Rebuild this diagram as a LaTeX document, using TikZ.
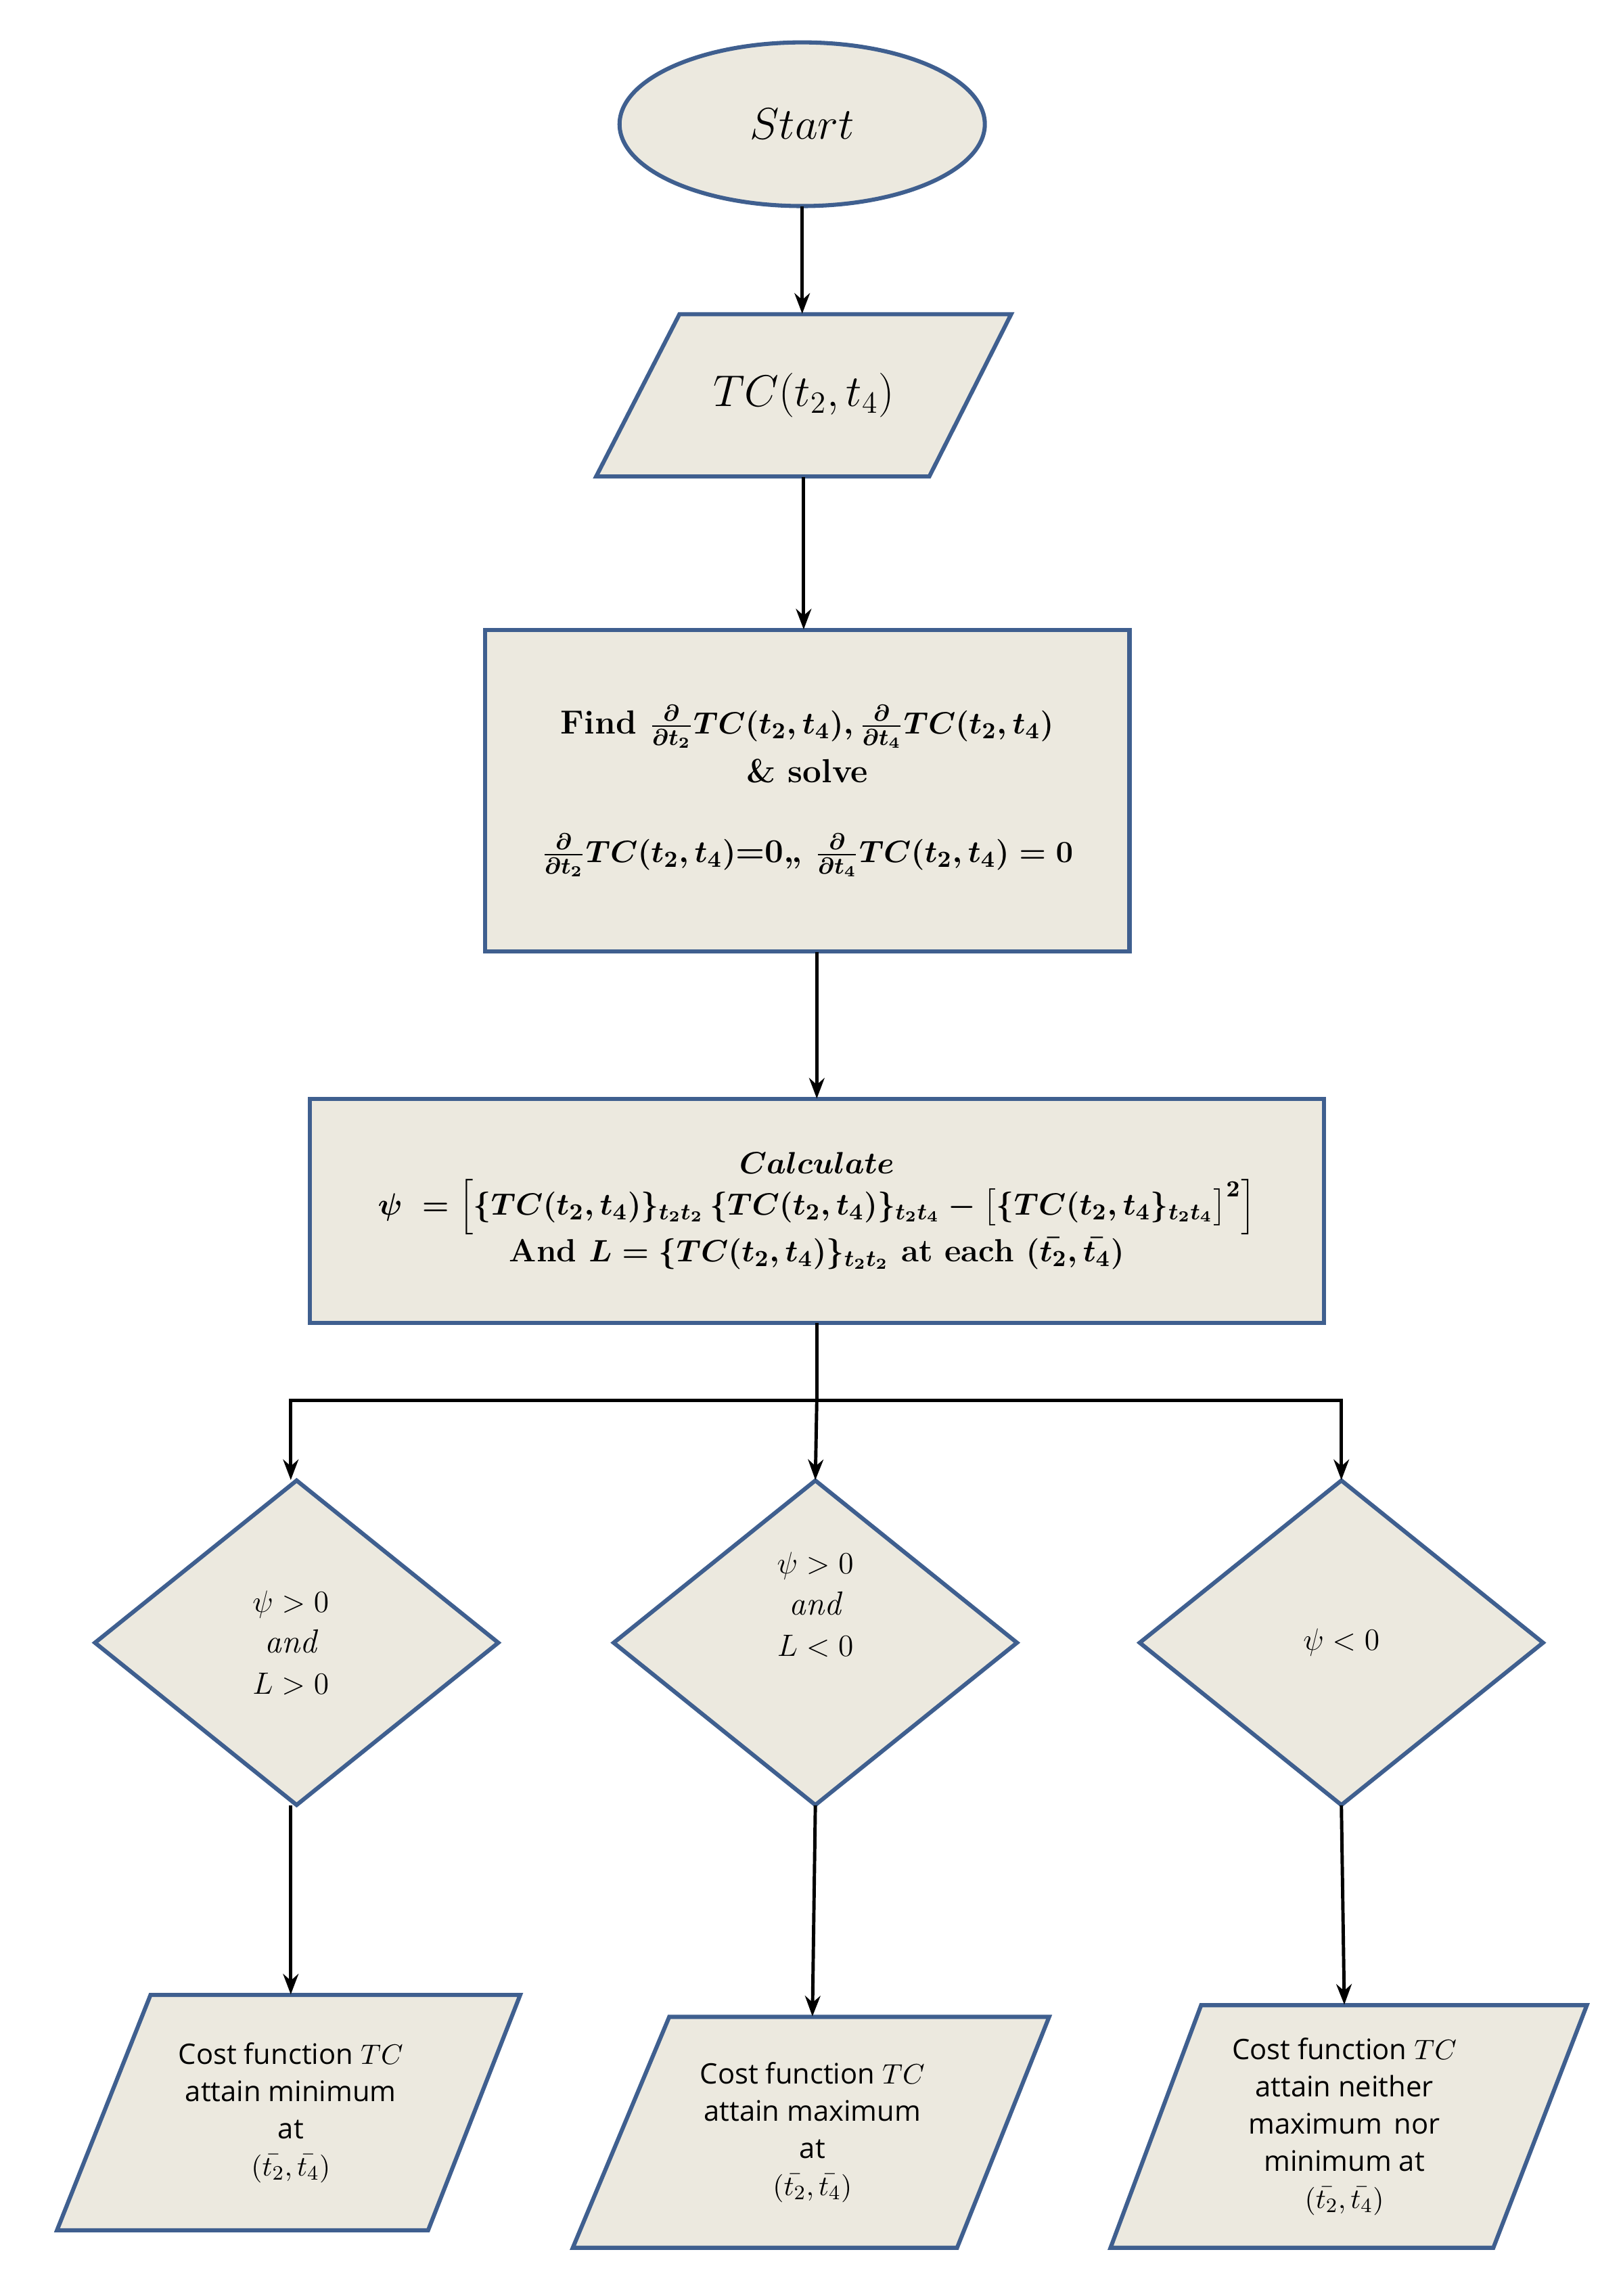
\documentclass[tikz,border=0pt]{standalone}
\usepackage{fontspec}
\usepackage{amsmath}
\newfontfamily\costfont{Open Sans}
\usetikzlibrary{arrows.meta}
\definecolor{fillc}{HTML}{ECE9DF}
\definecolor{edgec}{HTML}{3F5F8F}
\begin{document}
\begin{tikzpicture}[x=0.02cm,y=-0.02cm,
  shp/.style={fill=fillc,draw=edgec,line width=1.6pt,line join=miter},
  lab/.style={inner sep=0,align=center},
  arr/.style={-{Stealth[length=8pt,width=6pt]},line width=1.3pt}]
\useasboundingbox (0,0) rectangle (1109,1571);
% start
\draw[shp] (549,85) ellipse [x radius=125,y radius=56];
\node[lab,minimum width=5cm,minimum height=2.24cm,font=\fontsize{17}{20}\selectfont] (start) at (549,85) {$Start$};
% input
\draw[shp] (465,215)--(692,215)--(636,326)--(408,326)--cycle;
\node[lab,minimum width=4.5cm,minimum height=2.22cm,font=\fontsize{17}{20}\selectfont] (in) at (550,270.5) {$TC(t_2,t_4)$};
% box1
\draw[shp] (332,431) rectangle (773,651);
\node[lab,minimum width=8.82cm,minimum height=4.4cm,font=\fontsize{13}{17}\selectfont\bfseries\boldmath] (b1) at (552.5,541)
{Find $\frac{\partial}{\partial t_2}TC(t_2,t_4),\frac{\partial}{\partial t_4}TC(t_2,t_4)$\\[2pt] \& solve\\[14pt]
$\frac{\partial}{\partial t_2}TC(t_2,t_4)$=0,, $\frac{\partial}{\partial t_4}TC(t_2,t_4)=0$};
% box2
\draw[shp] (212,752) rectangle (906,905);
\node[lab,minimum width=13.88cm,minimum height=3.06cm,font=\fontsize{12.5}{16}\selectfont\bfseries\boldmath] (b2) at (559,828.5)
{$\boldsymbol{Calculate}$\\
$\psi\;=\Big[\{TC(t_2,t_4)\}_{t_2t_2}\,\{TC(t_2,t_4)\}_{t_2t_4}-\big[\{TC(t_2,t_4\}_{t_2t_4}\big]^2\Big]$\\
And $L=\{TC(t_2,t_4)\}_{t_2t_2}$ at each $(\bar{t_2},\bar{t_4})$};
% diamonds
\foreach \c in {203,558,918}{
  \draw[shp] (\c-138,1124)--(\c,1013)--(\c+138,1124)--(\c,1235)--cycle;
}
\node[lab,minimum width=1cm,minimum height=4.44cm,font=\fontsize{13}{16}\selectfont] (d1) at (199,1124) {$\psi>0$\\ $\mathit{and}$\\ $L>0$};
\node[lab,minimum width=1cm,minimum height=4.44cm,font=\fontsize{13}{16}\selectfont] (d2) at (558,1124) {$\psi>0$\\ $\mathit{and}$\\ $L<0$\\[14pt]};
\node[lab,minimum width=1cm,minimum height=4.44cm,font=\fontsize{13}{16}\selectfont] (d3) at (918,1124) {$\psi<0$};
% outputs
\draw[shp] (103,1365)--(356,1365)--(293,1526)--(39,1526)--cycle;
\node[lab,minimum width=4cm,minimum height=3.22cm,font=\fontsize{11}{14.5}\selectfont\costfont] (o1) at (199,1445.5)
{Cost function $TC$\\ attain minimum\\ at\\ $(\bar{t_2},\bar{t_4})$};
\draw[shp] (458,1380)--(718,1380)--(655,1538)--(392,1538)--cycle;
\node[lab,minimum width=4cm,minimum height=3.16cm,font=\fontsize{11}{14.5}\selectfont\costfont] (o2) at (556,1459)
{Cost function $TC$\\ attain maximum\\ at\\ $(\bar{t_2},\bar{t_4})$};
\draw[shp] (822,1372)--(1086,1372)--(1022,1538)--(760,1538)--cycle;
\node[lab,minimum width=4cm,minimum height=3.32cm,font=\fontsize{11}{14.5}\selectfont\costfont] (o3) at (920,1455)
{Cost function $TC$\\ attain neither\\ maximum\, nor\\ minimum at\\ $(\bar{t_2},\bar{t_4})$};
% connectors
\draw[arr] (start) -- (start|-in.north);
\draw[arr] (in) -- (in|-b1.north);
\draw[arr] (b1.south-|b2) -- (b2.north);
\coordinate (br) at (559,958);
\draw[line width=1.3pt] (b2.south) -- (br);
\draw[arr] (br) -- (d2.north);
\draw[arr] (br) -| (d1.north);
\draw[arr] (br) -| (d3.north);
\draw[arr] (d1.south) -- (o1.north);
\draw[arr] (d2.south) -- (o2.north);
\draw[arr] (d3.south) -- (o3.north);
\end{tikzpicture}
\end{document}
